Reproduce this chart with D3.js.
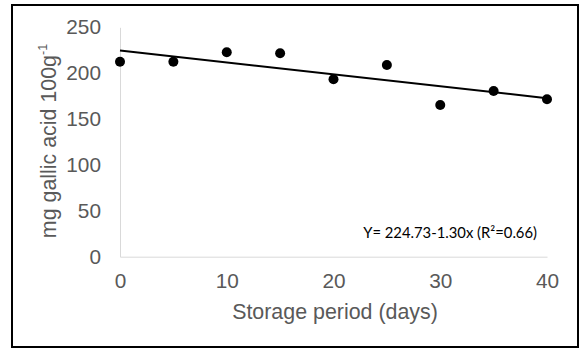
<!DOCTYPE html>
<html><head><meta charset="utf-8">
<script src="https://cdn.jsdelivr.net/npm/d3@7"></script>
<style>body{margin:0;background:#fff}svg{display:block}</style>
</head><body>
<script>
const days = [0, 5, 10, 15, 20, 25, 30, 35, 40];
const gallic = [212.5, 212.5, 222.8, 221.7, 193.3, 208.9, 165.3, 180.6, 171.5];
const xTicks = [0, 10, 20, 30, 40];
const yTicks = [0, 50, 100, 150, 200, 250];
const intercept = 224.73, slope = -1.30;
const equation = "Y= 224.73-1.30x (R²=0.66)";

const W = 581, H = 350;
const svg = d3.select("body").append("svg").attr("width", W).attr("height", H);
svg.append("rect").attr("x", 12).attr("y", 5).attr("width", 566).attr("height", 342)
  .attr("fill", "#fff").attr("stroke", "#000").attr("stroke-width", 2);

const x = d3.scaleLinear().domain([0, 40]).range([120, 547]);
const y = d3.scaleLinear().domain([0, 250]).range([256.7, 27.3]);
const gray = "#595959", font = "'Liberation Sans', Arial, sans-serif";

// axes
const xa = svg.append("g").attr("transform", `translate(0,${y(0)})`)
  .call(d3.axisBottom(x).tickValues(xTicks).tickSize(0).tickPadding(17));
const ya = svg.append("g").attr("transform", `translate(${x(0)},0)`)
  .call(d3.axisLeft(y).tickValues(yTicks).tickSize(0).tickPadding(19));
[xa, ya].forEach(g => {
  g.select(".domain").attr("stroke", "#d9d9d9").attr("stroke-width", 1);
  g.selectAll("text").attr("fill", gray).attr("font-family", font).attr("font-size", 20.8);
});

// regression line
svg.append("line")
  .attr("x1", x(0)).attr("y1", y(intercept))
  .attr("x2", x(40)).attr("y2", y(intercept + slope * 40))
  .attr("stroke", "#000").attr("stroke-width", 2);

// points
svg.selectAll("circle.pt").data(days).enter().append("circle")
  .attr("class", "pt")
  .attr("cx", (d) => x(d)).attr("cy", (d, i) => y(gallic[i]))
  .attr("r", 5).attr("fill", "#000");

// equation
svg.append("text").attr("x", 537).attr("y", 238).attr("text-anchor", "end")
  .attr("font-family", "Lato, 'Open Sans', sans-serif").attr("font-size", 14.8)
  .attr("fill", "#000").text(equation);

// x title
svg.append("text").attr("x", 335).attr("y", 319).attr("text-anchor", "middle")
  .attr("font-family", font).attr("font-size", 21.4).attr("fill", gray)
  .text("Storage period (days)");

// y title
const yt = svg.append("text").attr("transform", "translate(56,141) rotate(-90)")
  .attr("text-anchor", "middle").attr("font-family", font).attr("font-size", 21.4).attr("fill", gray);
yt.append("tspan").text("mg gallic acid 100g");
yt.append("tspan").attr("dy", -9).attr("font-size", 12.5).text("-1");
</script>
</body></html>
